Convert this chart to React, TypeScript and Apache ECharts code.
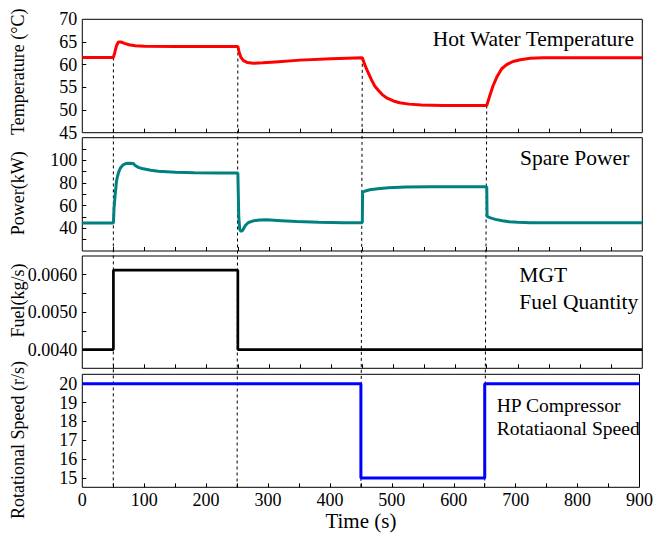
import React, { useEffect, useRef } from "react";
import * as echarts from "echarts";

// ---- Data ----
const tempData: [number, number][] = [
  [0, 61.6], [50, 61.6], [52, 62.6], [55, 64.2], [58, 65.0], [62, 65.0], [68, 64.7],
  [75, 64.4], [85, 64.15], [100, 64.05], [150, 64.0], [250, 64.0],
  [252, 62.8], [255, 61.6], [259, 60.9], [265, 60.5], [275, 60.3], [290, 60.4],
  [310, 60.6], [350, 61.0], [400, 61.3], [450, 61.5],
  [455, 59.6], [460, 58.1], [465, 56.6], [470, 55.3], [476, 54.3], [482, 53.4],
  [490, 52.6], [500, 52.0], [510, 51.6], [525, 51.3], [545, 51.1], [580, 51.0], [650, 51.0],
  [655, 53.2], [660, 55.3], [666, 57.2], [674, 59.1], [682, 60.0], [692, 60.7],
  [704, 61.1], [720, 61.4], [740, 61.5], [900, 61.5],
];
const powerData: [number, number][] = [
  [0, 44.8], [50, 44.8], [51, 58], [52.5, 67.5], [55, 82], [58, 89], [61, 93], [65, 95.8],
  [70, 97.2], [76, 97.5], [82, 97.3], [85, 95.5], [90, 93.8], [96, 92.8], [110, 91.3],
  [122, 90.4], [150, 89.6], [180, 89.1], [220, 88.9], [250, 88.9],
  [251.5, 50], [253, 39], [255.5, 37.2], [258, 38.5], [262, 42.5], [267, 45.2], [275, 46.6],
  [285, 47.3], [296, 47.5], [320, 46.8], [345, 46.0], [380, 45.3], [420, 45.0], [450, 44.9],
  [450.5, 72], [455, 73], [462, 74], [475, 75], [492, 75.9], [520, 76.5], [560, 76.7], [650, 76.7],
  [650.5, 50.5], [656, 49.2], [664, 47.9], [675, 46.7], [686, 45.8], [700, 45.3], [720, 45.0],
  [760, 44.9], [900, 44.9],
];
const fuelData: [number, number][] = [
  [0, 0.004], [50, 0.004], [50, 0.00612], [250, 0.00612], [250, 0.004], [900, 0.004],
];
const speedData: [number, number][] = [
  [0, 20], [450, 20], [450, 15], [650, 15], [650, 20], [900, 20],
];
const eventTimes = [50, 250, 450, 650];

const tempLabels = [45, 50, 55, 60, 65, 70];
const tempTicks = [50, 55, 60, 65];
const powerLabels = [40, 60, 80, 100];
const powerTicks = [30, 40, 50, 60, 70, 80, 90, 100, 110];
const fuelLabels = [0.004, 0.005, 0.006];
const fuelTicks = [0.004, 0.0045, 0.005, 0.0055, 0.006];
const speedLabels = [15, 16, 17, 18, 19, 20];
const speedTicks = [15, 16, 17, 18, 19, 20];
const timeLabels = [0, 100, 200, 300, 400, 500, 600, 700, 800, 900];
const timeTicks = [50, 100, 150, 200, 250, 300, 350, 400, 450, 500, 550, 600, 650, 700, 750, 800, 850];

const yNames = ["Temperature (°C)", "Power(kW)", "Fuel(kg/s)", "Rotational Speed (r/s)"];
const seriesColors = ["#ff0000", "#008080", "#000000", "#0000ff"];

const FONT = "'Liberation Serif', 'Times New Roman', serif";

export default function App() {
  const ref = useRef<HTMLDivElement>(null);

  useEffect(() => {
    document.body.style.margin = "0";
    if (!ref.current) return;
    const chart = echarts.init(ref.current, undefined, { renderer: "svg" });

    const L = 82.3;
    const W = 560;
    const grids = [
      { top: 19.3, height: 113.4 },
      { top: 137.7, height: 113.3 },
      { top: 256, height: 112.3 },
      { top: 374.3, height: 113 },
    ];
    const yRanges = [
      { min: 45, max: 70, labels: tempLabels, ticks: tempTicks, fmt: (v: number) => String(v) },
      { min: 20, max: 120, labels: powerLabels, ticks: powerTicks, fmt: (v: number) => String(v) },
      { min: 0.0035, max: 0.0065, labels: fuelLabels, ticks: fuelTicks, fmt: (v: number) => v.toFixed(4) },
      { min: 14.5, max: 20.5, labels: speedLabels, ticks: speedTicks, fmt: (v: number) => String(v) },
    ];
    const datas = [tempData, powerData, fuelData, speedData];
    const widths = [3, 3, 2.7, 3];

    const option: any = {
      animation: false,
      backgroundColor: "#fff",
      grid: grids.map((g) => ({
        left: L, width: W, top: g.top, height: g.height,
        show: true, borderColor: "#000", borderWidth: 1, backgroundColor: "transparent",
      })),
      xAxis: grids.map((_, i) => ({
        type: "value", gridIndex: i, min: 0, max: 900,
        axisLine: { show: false },
        axisTick: { show: true, inside: true, length: 4, customValues: timeTicks, lineStyle: { color: "#000" } },
        axisLabel: {
          show: i === 3, customValues: timeLabels, fontFamily: FONT, fontSize: 18, color: "#000", margin: 4,
        },
        splitLine: { show: false },
        name: i === 3 ? "Time (s)" : "",
        nameLocation: "middle",
        nameGap: 23,
        nameTextStyle: { fontFamily: FONT, fontSize: 21, color: "#000" },
      })),
      yAxis: yRanges.map((r, i) => ({
        type: "value", gridIndex: i, min: r.min, max: r.max,
        axisLine: { show: false },
        axisTick: { show: true, inside: true, length: 4, customValues: r.ticks, lineStyle: { color: "#000" } },
        axisLabel: {
          customValues: r.labels, formatter: r.fmt, fontFamily: FONT, fontSize: 18, color: "#000", margin: 5,
        },
        splitLine: { show: false },
      })),
      series: datas.map((d, i) => ({
        type: "line", xAxisIndex: i, yAxisIndex: i, data: d,
        showSymbol: false, symbol: "none",
        lineStyle: { color: seriesColors[i], width: widths[i] },
        z: 3,
      })),
    };
    chart.setOption(option);

    // dashed event lines through the panels, via the library's scales
    const dashed = eventTimes.map((t) => {
      const pt = tempData.find((p) => p[0] === t)!;
      const p1 = chart.convertToPixel({ xAxisIndex: 0, yAxisIndex: 0 } as any, [t, pt[1]]) as number[];
      const p2 = chart.convertToPixel({ xAxisIndex: 3, yAxisIndex: 3 } as any, [t, 14.5]) as number[];
      return {
        type: "line", z: 1, silent: true,
        shape: { x1: p1[0], y1: p1[1], x2: p2[0], y2: p2[1] },
        style: { stroke: "#000", lineWidth: 1, lineDash: [3, 3] },
      };
    });

    const yNamePos = [71.7, 193.3, 300.5, 440];
    const names = yNames.map((n, i) => ({
      type: "text", x: 18, y: yNamePos[i], rotation: Math.PI / 2,
      style: { text: n, font: `18px ${FONT}`, fill: "#000", align: "center", verticalAlign: "middle" },
    }));

    const titles = [
      { text: "Hot Water Temperature", x: 634, y: 38.5, align: "right", size: 21.5 },
      { text: "Spare Power", x: 629.3, y: 158.3, align: "right", size: 21.5 },
      { text: "MGT", x: 519.3, y: 275, align: "left", size: 21.5 },
      { text: "Fuel Quantity", x: 519.3, y: 301.8, align: "left", size: 21.5 },
      { text: "HP Compressor", x: 496.7, y: 405, align: "left", size: 19.6 },
      { text: "Rotatiaonal Speed", x: 496.7, y: 428.8, align: "left", size: 19.6 },
    ].map((t) => ({
      type: "text", x: t.x, y: t.y, z: 5,
      style: { text: t.text, font: `${t.size}px ${FONT}`, fill: "#000", align: t.align, verticalAlign: "middle" },
    }));

    chart.setOption({ graphic: [...dashed, ...names, ...titles] });

    return () => chart.dispose();
  }, []);

  return <div ref={ref} style={{ width: 656, height: 534 }} />;
}
